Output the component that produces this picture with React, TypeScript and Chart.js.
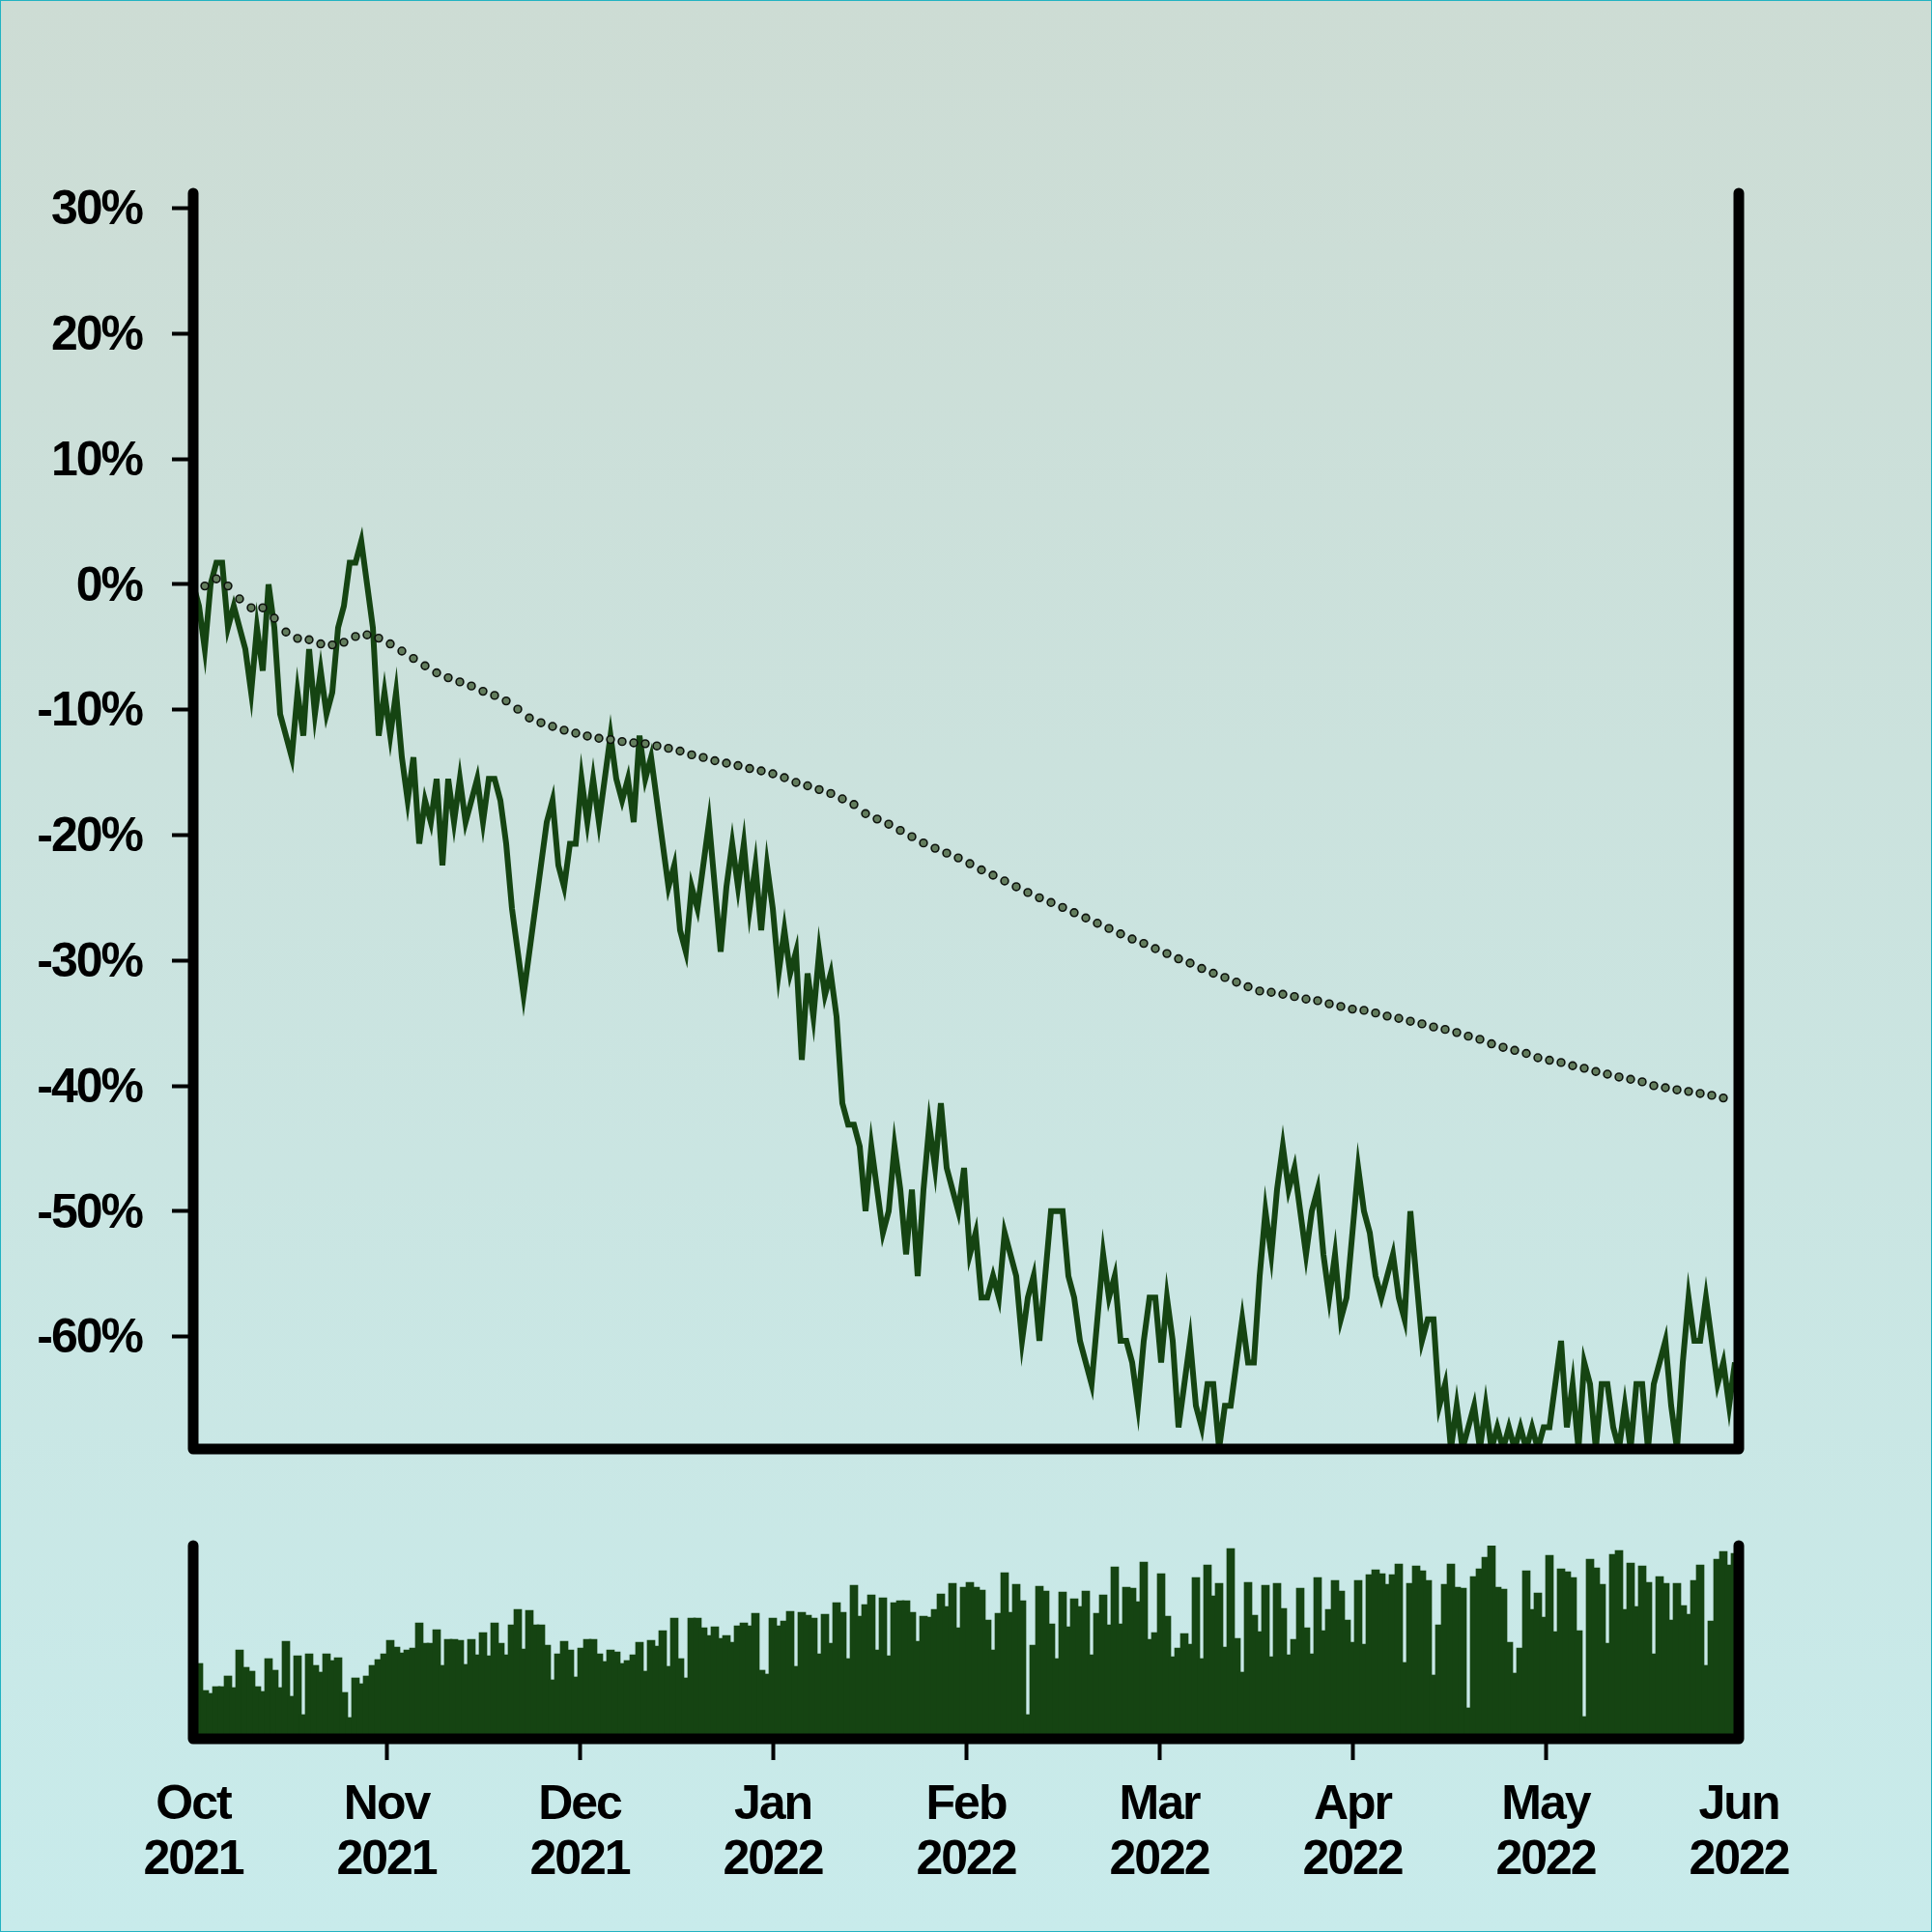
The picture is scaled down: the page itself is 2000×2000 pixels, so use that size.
import React, { useEffect, useRef } from "react";
import { Chart, registerables } from "chart.js";

Chart.register(...registerables);

// ---- data ----
// daily close prices (price units); the chart shows the return versus the first close
const closePrices = [
  58, 57, 55, 58, 59, 59, 56, 57, 56, 55,
  53, 56, 54, 58, 56, 52, 51, 50, 53, 51,
  55, 52, 54, 52, 53, 56, 57, 59, 59, 60,
  58, 56, 51, 53, 51, 53, 50, 48, 50, 46,
  48, 47, 49, 45, 49, 47, 49, 47, 48, 49,
  47, 49, 49, 48, 46, 43, 41, 39, 41, 43,
  45, 47, 48, 45, 44, 46, 46, 49, 47, 49,
  47, 49, 51, 49, 48, 49, 47, 51, 49, 50,
  48, 46, 44, 45, 42, 41, 44, 43, 45, 47,
  44, 41, 44, 46, 44, 46, 43, 45, 42, 45,
  43, 40, 42, 40, 41, 36, 40, 38, 41, 39,
  40, 38, 34, 33, 33, 32, 29, 32, 30, 28,
  29, 32, 30, 27, 30, 26, 30, 33, 31, 34,
  31, 30, 29, 31, 27, 28, 25, 25, 26, 25,
  28, 27, 26, 23, 25, 26, 23, 26, 29, 29,
  29, 26, 25, 23, 22, 21, 24, 27, 25, 26,
  23, 23, 22, 20, 23, 25, 25, 22, 25, 23,
  19, 21, 23, 20, 19, 21, 21, 18, 20, 20,
  22, 24, 22, 22, 26, 29, 27, 30, 32, 30,
  31, 29, 27, 29, 30, 27, 25, 27, 24, 25,
  28, 31, 29, 28, 26, 25, 26, 27, 25, 24,
  29, 26, 23, 24, 24, 20, 21, 18, 20, 18,
  19, 20, 18, 20, 18, 19, 18, 19, 18, 19,
  18, 19, 18, 19, 19, 21, 23, 19, 21, 18,
  22, 21, 18, 21, 21, 19, 18, 20, 18, 21,
  21, 18, 21, 22, 23, 20, 18, 22, 25, 23,
  23, 25, 23, 21, 22, 20, 22,
];

// smoothed trend (percent), one value every second day
const trendReturns = [
  0, -0.13, 0.44, -0.13, -1.16, -1.87, -1.87, -2.7, -3.8, -4.31,
  -4.42, -4.75, -4.83, -4.62, -4.16, -4.03, -4.29, -4.75, -5.32, -5.91,
  -6.5, -7.06, -7.45, -7.78, -8.11, -8.53, -8.86, -9.3, -9.96, -10.66,
  -11.04, -11.33, -11.63, -11.87, -12.1, -12.28, -12.38, -12.54, -12.64, -12.71,
  -12.89, -13.08, -13.3, -13.6, -13.81, -14.07, -14.26, -14.46, -14.69, -14.88,
  -15.11, -15.42, -15.8, -16.07, -16.37, -16.68, -17.11, -17.56, -18.29, -18.72,
  -19.13, -19.63, -20.13, -20.63, -21.05, -21.44, -21.82, -22.28, -22.78, -23.2,
  -23.66, -24.12, -24.58, -25.0, -25.38, -25.77, -26.19, -26.61, -27.03, -27.45,
  -27.88, -28.29, -28.64, -29.06, -29.45, -29.87, -30.21, -30.64, -31.02, -31.36,
  -31.73, -32.1, -32.44, -32.54, -32.7, -32.88, -33.08, -33.21, -33.46, -33.67,
  -33.88, -33.98, -34.19, -34.44, -34.62, -34.85, -35.06, -35.31, -35.5, -35.75,
  -36.04, -36.29, -36.65, -36.93, -37.17, -37.42, -37.76, -37.96, -38.14, -38.4,
  -38.6, -38.86, -39.07, -39.3, -39.48, -39.68, -39.99, -40.15, -40.32, -40.45,
  -40.61, -40.76, -40.97,
];

// daily traded volume (thousands)
const volumes = [
  70, 78, 50, 47, 54, 54, 65, 53, 92, 74,
  70, 54, 49, 83, 71, 53, 101, 44, 86, 25,
  88, 76, 69, 88, 81, 84, 48, 22, 63, 57,
  65, 76, 82, 88, 102, 95, 89, 92, 94, 120,
  99, 99, 113, 76, 103, 103, 102, 77, 103, 87,
  110, 86, 120, 99, 87, 118, 134, 93, 133, 118,
  118, 97, 61, 88, 101, 92, 64, 94, 103, 103,
  88, 80, 92, 90, 78, 81, 87, 100, 70, 102,
  96, 112, 75, 125, 83, 63, 125, 125, 115, 107,
  116, 104, 107, 100, 117, 120, 117, 130, 71, 67,
  125, 117, 122, 132, 75, 131, 128, 125, 88, 129,
  99, 141, 131, 83, 159, 127, 139, 149, 92, 146,
  86, 141, 143, 143, 131, 101, 127, 126, 134, 150,
  137, 161, 115, 157,
  162, 157, 154, 123, 92, 130, 172, 131, 160, 143,
  25, 97, 158, 153, 119, 83, 152, 116, 145, 137,
  153, 87, 130, 149, 118, 178, 119, 157, 156, 142,
  183, 103, 110, 171, 127, 85, 94, 109, 98, 167,
  83, 180, 148, 161, 95, 197, 104, 69, 162, 128,
  111, 159, 85, 161, 135, 87, 103, 156, 115, 88,
  167, 112, 134, 164, 153, 123, 100, 164, 98, 170,
  175, 171, 160, 170, 181, 79, 161, 179, 174, 164,
  66, 118, 160, 181, 157, 156, 32, 168, 176, 188,
  202, 157, 155, 100, 68, 94, 174, 134, 151, 126,
  190, 111, 176, 173, 167, 112, 23, 186, 177, 160,
  99, 191, 195, 134, 182, 137, 179, 162, 88, 168,
  161, 123, 161, 138, 129, 164, 180, 76, 122, 186,
  194, 180, 192,
];

const monthLabels = ["Oct", "Nov", "Dec", "Jan", "Feb", "Mar", "Apr", "May", "Jun"];
const yearLabels = ["2021", "2021", "2021", "2022", "2022", "2022", "2022", "2022", "2022"];
const yTickValues = [-60, -50, -40, -30, -20, -10, 0, 10, 20, 30];

// x is measured in months since 1 Oct 2021
const DAY_STEP = 0.03;
const TREND_STEP = 0.06;
const Y_MIN = -68.97;
const Y_MAX = 31.2;

const GREEN = "#154412";
const FONT = {
  family: "'Liberation Sans', Arial, Helvetica, sans-serif",
  size: 50,
  weight: "bold" as const,
  lineHeight: 1.14,
};

const framePlugin = {
  id: "frame",
  beforeDraw(chart: any) {
    chart.ctx.letterSpacing = "-2px";
  },
  afterDraw(chart: any) {
    const { ctx, chartArea } = chart;
    const { left, right, top, bottom } = chartArea;
    ctx.save();
    ctx.strokeStyle = "#000";
    ctx.lineWidth = 11;
    ctx.lineCap = "round";
    ctx.lineJoin = "round";
    ctx.beginPath();
    ctx.moveTo(left, top);
    ctx.lineTo(left, bottom);
    ctx.lineTo(right, bottom);
    ctx.lineTo(right, top);
    ctx.stroke();
    ctx.restore();
  },
};

export default function App() {
  const mainRef = useRef<HTMLCanvasElement | null>(null);
  const volRef = useRef<HTMLCanvasElement | null>(null);

  useEffect(() => {
    const base = closePrices[0];
    const linePoints = closePrices.map((p, i) => ({ x: i * DAY_STEP, y: (p / base - 1) * 100 }));
    const trendPoints = trendReturns.map((v, k) => ({ x: k * TREND_STEP, y: v }));
    const volPoints = volumes.map((v, i) => ({ x: i * DAY_STEP, y: v }));
    const lastTick = monthLabels.length - 1;

    const main = new Chart(mainRef.current as HTMLCanvasElement, {
      type: "line",
      data: {
        datasets: [
          {
            data: trendPoints,
            showLine: false,
            pointRadius: 3.9,
            pointBackgroundColor: "#637d5d",
            pointBorderColor: "#0d120d",
            pointBorderWidth: 1.6,
            order: 0,
          },
          {
            data: linePoints,
            borderColor: GREEN,
            borderWidth: 6,
            pointRadius: 0,
            tension: 0,
            order: 1,
          },
        ],
      },
      options: {
        responsive: false,
        animation: false,
        events: [],
        layout: { padding: { top: 200, right: 200, bottom: 60, left: 0 } },
        plugins: { legend: { display: false }, tooltip: { enabled: false } },
        scales: {
          x: { type: "linear", min: 0, max: 8, display: false },
          y: {
            min: Y_MIN,
            max: Y_MAX,
            afterBuildTicks: (s: any) => {
              s.ticks = yTickValues.map((v) => ({ value: v }));
            },
            afterFit: (s: any) => {
              s.width = 200;
            },
            border: { display: false },
            grid: { drawOnChartArea: false, tickLength: 22, tickWidth: 4, tickColor: "#000" },
            ticks: {
              padding: 31,
              labelOffset: 3,
              color: "#000",
              font: FONT,
              callback: (v: any) => `${v}%`,
            },
          },
        },
      },
      plugins: [framePlugin],
    });

    const vol = new Chart(volRef.current as HTMLCanvasElement, {
      type: "bar",
      data: {
        datasets: [
          {
            data: volPoints,
            backgroundColor: GREEN,
            borderWidth: 0,
            barThickness: 8,
          },
        ],
      },
      options: {
        responsive: false,
        animation: false,
        events: [],
        layout: { padding: { top: 60, right: 200, bottom: 0, left: 200 } },
        plugins: { legend: { display: false }, tooltip: { enabled: false } },
        scales: {
          x: {
            type: "linear",
            min: 0,
            max: 8,
            offset: false,
            afterBuildTicks: (s: any) => {
              s.ticks = monthLabels.map((_, i) => ({ value: i }));
            },
            afterFit: (s: any) => {
              s.height = 200;
            },
            border: { display: false },
            grid: {
              offset: false,
              drawOnChartArea: false,
              tickLength: 22,
              tickWidth: 4,
              tickColor: (c: any) =>
                c.index === 0 || c.index === lastTick ? "rgba(0,0,0,0)" : "#000",
            },
            ticks: {
              padding: 19,
              autoSkip: false,
              maxRotation: 0,
              color: "#000",
              font: FONT,
              callback: (v: any) => [monthLabels[v], yearLabels[v]],
            },
          },
          y: { display: false, min: 0, max: 200 },
        },
      },
      plugins: [framePlugin],
    });

    return () => {
      main.destroy();
      vol.destroy();
    };
  }, []);

  return (
    <div
      style={{
        position: "fixed",
        left: 0,
        top: 0,
        width: 2000,
        height: 2000,
        background: "linear-gradient(to bottom, #cddcd4 0%, #c8ebeb 100%)",
        boxShadow: "inset 0 0 0 1px #22b3c2",
        overflow: "hidden",
      }}
    >
      <canvas
        ref={mainRef}
        width={2000}
        height={1560}
        style={{ position: "absolute", left: 0, top: 0, width: 2000, height: 1560 }}
      />
      <canvas
        ref={volRef}
        width={2000}
        height={460}
        style={{ position: "absolute", left: 0, top: 1540, width: 2000, height: 460 }}
      />
    </div>
  );
}
